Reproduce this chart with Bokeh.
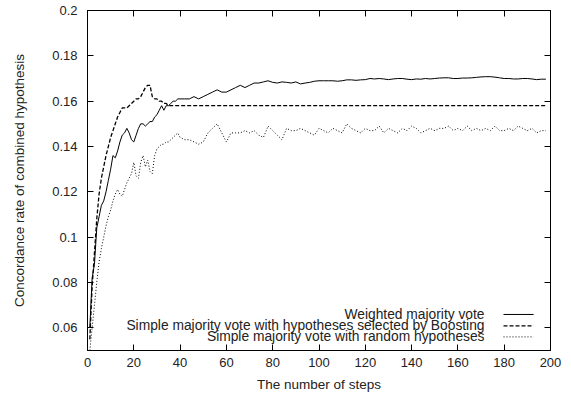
from bokeh.plotting import figure
from bokeh.models import (LinearAxis, FixedTicker, CustomJSTickFormatter, Label, Arrow, Range1d)
from bokeh.embed import file_html
from bokeh.resources import INLINE

# ---- data ----
STEPS = list(range(1, 41)) + list(range(42, 199, 2))

WEIGHTED = [
    0.060, 0.082, 0.088, 0.104, 0.109, 0.114, 0.116, 0.120, 0.125, 0.130,
    0.136, 0.135, 0.138, 0.142, 0.145, 0.146, 0.148, 0.146, 0.143, 0.142,
    0.145, 0.148, 0.150, 0.150, 0.149, 0.150, 0.151, 0.151, 0.153, 0.154,
    0.156, 0.158, 0.156, 0.158, 0.158, 0.159, 0.160, 0.160, 0.161, 0.161,
    0.161, 0.161, 0.162, 0.161, 0.162, 0.163, 0.164, 0.165, 0.164, 0.164,
    0.165, 0.166, 0.167, 0.166, 0.167, 0.168, 0.168, 0.1685, 0.169, 0.1683,
    0.168, 0.1685, 0.1683, 0.168, 0.1685, 0.1676, 0.168, 0.1683, 0.1688, 0.169,
    0.169, 0.169, 0.169, 0.1688, 0.169, 0.1694, 0.1694, 0.1692, 0.1694, 0.1695,
    0.170, 0.1698, 0.170, 0.1698, 0.1695, 0.1698, 0.170, 0.170, 0.1697, 0.1695,
    0.1698, 0.1697, 0.170, 0.1698, 0.170, 0.1702, 0.1703, 0.1703, 0.170, 0.170,
    0.1702, 0.1702, 0.1703, 0.1705, 0.1707, 0.1708, 0.1708, 0.1706, 0.1703, 0.170,
    0.170, 0.1698, 0.1698, 0.170, 0.170, 0.1698, 0.1695, 0.1697, 0.1697,
]

BOOSTING = [
    0.055, 0.078, 0.093, 0.108, 0.119, 0.126, 0.131, 0.136, 0.140, 0.144,
    0.147, 0.150, 0.153, 0.155, 0.157, 0.157, 0.157, 0.158, 0.159, 0.160,
    0.161, 0.161, 0.162, 0.164, 0.166, 0.167, 0.167, 0.162, 0.161, 0.161,
    0.160, 0.160, 0.159, 0.159, 0.158, 0.158, 0.158, 0.158, 0.158, 0.158,
    0.158, 0.158, 0.158, 0.158, 0.158, 0.158, 0.158, 0.158, 0.158, 0.158,
    0.158, 0.158, 0.158, 0.158, 0.158, 0.158, 0.158, 0.158, 0.158, 0.158,
    0.158, 0.158, 0.158, 0.158, 0.158, 0.158, 0.158, 0.158, 0.158, 0.158,
    0.158, 0.158, 0.158, 0.158, 0.158, 0.158, 0.158, 0.158, 0.158, 0.158,
    0.158, 0.158, 0.158, 0.158, 0.158, 0.158, 0.158, 0.158, 0.158, 0.158,
    0.158, 0.158, 0.158, 0.158, 0.158, 0.158, 0.158, 0.158, 0.158, 0.158,
    0.158, 0.158, 0.158, 0.158, 0.158, 0.158, 0.158, 0.158, 0.158, 0.158,
    0.158, 0.158, 0.158, 0.158, 0.158, 0.158, 0.158, 0.158, 0.158,
]

RANDOM = [
    0.050, 0.060, 0.070, 0.080, 0.089, 0.095, 0.100, 0.105, 0.109, 0.112,
    0.116, 0.119, 0.121, 0.119, 0.118, 0.121, 0.124, 0.126, 0.128, 0.133,
    0.127, 0.126, 0.133, 0.136, 0.131, 0.134, 0.129, 0.128, 0.136, 0.139,
    0.140, 0.141, 0.141, 0.142, 0.142, 0.143, 0.144, 0.145, 0.146, 0.144,
    0.143, 0.143, 0.142, 0.141, 0.142, 0.146, 0.148, 0.150, 0.146, 0.142,
    0.146, 0.146, 0.146, 0.147, 0.146, 0.147, 0.145, 0.144, 0.149, 0.147,
    0.145, 0.143, 0.148, 0.147, 0.147, 0.148, 0.147, 0.146, 0.145, 0.148,
    0.147, 0.146, 0.148, 0.147, 0.146, 0.150, 0.148, 0.147, 0.146, 0.148,
    0.147, 0.147, 0.149, 0.146, 0.148, 0.147, 0.146, 0.148, 0.147, 0.149,
    0.148, 0.146, 0.147, 0.148, 0.147, 0.148, 0.148, 0.149, 0.147, 0.148,
    0.147, 0.149, 0.147, 0.148, 0.147, 0.148, 0.147, 0.149, 0.147, 0.147,
    0.148, 0.147, 0.149, 0.148, 0.147, 0.148, 0.146, 0.147, 0.147,
]

SERIES_NAMES = [
    "Weighted majority vote",
    "Simple majority vote with hypotheses selected by Boosting",
    "Simple majority vote with random hypotheses",
]

X_TICKS = [0, 20, 40, 60, 80, 100, 120, 140, 160, 180, 200]
Y_TICKS = [0.06, 0.08, 0.1, 0.12, 0.14, 0.16, 0.18, 0.2]
Y_TICK_LABELS = ["0.06", "0.08", "0.1", "0.12", "0.14", "0.16", "0.18", "0.2"]

FONT = "Liberation Sans"
TXT = "#222222"

p = figure(width=571, height=394, output_backend="svg", toolbar_location=None,
           x_range=Range1d(0, 200), y_range=Range1d(0.05, 0.2),
           x_axis_label="The number of steps",
           y_axis_label="Concordance rate of combined hypothesis",
           min_border_left=87, min_border_right=21, min_border_top=10, min_border_bottom=10)
p.grid.visible = False
p.outline_line_color = "black"
p.background_fill_color = "white"
p.border_fill_color = "white"

styles = [dict(line_dash="solid", line_width=1.0),
          dict(line_dash="4 2", line_width=1.3),
          dict(line_dash="1 2", line_width=1.0)]
for ys, st in zip([WEIGHTED, BOOSTING, RANDOM], styles):
    n = min(len(ys), len(STEPS))
    p.line(STEPS[:n], ys[:n], line_color="black", **st)

def style_axis(ax):
    ax.axis_line_color = "black"
    ax.major_tick_in = 6
    ax.major_tick_out = 0
    ax.minor_tick_line_color = None
    ax.major_tick_line_color = "black"
    ax.major_label_text_font = FONT
    ax.major_label_text_font_size = "13px"
    ax.major_label_text_color = TXT
    ax.axis_label_text_font = FONT
    ax.axis_label_text_font_size = "13.5px"
    ax.axis_label_text_font_style = "normal"
    ax.axis_label_text_color = TXT

xa = p.xaxis[0]
ya = p.yaxis[0]
style_axis(xa); style_axis(ya)
xa.ticker = FixedTicker(ticks=X_TICKS)
ya.ticker = FixedTicker(ticks=Y_TICKS)
ya.major_label_overrides = {t: l for t, l in zip(Y_TICKS, Y_TICK_LABELS)}
xa.major_label_standoff = 7
ya.major_label_standoff = 10
xa.axis_label_standoff = 7
ya.axis_label_standoff = 22

top = LinearAxis(ticker=FixedTicker(ticks=X_TICKS),
                 formatter=CustomJSTickFormatter(code="return ''"))
right = LinearAxis(ticker=FixedTicker(ticks=Y_TICKS),
                   formatter=CustomJSTickFormatter(code="return ''"))
for ax in (top, right):
    style_axis(ax)
    ax.major_label_standoff = 0
    ax.major_label_text_font_size = "1px"
p.add_layout(top, "above")
p.add_layout(right, "right")

# legend (text right-aligned, sample line on the right)
LEG_Y = [0.0659, 0.0609, 0.0560]
for name, yy, st in zip(SERIES_NAMES, LEG_Y, styles):
    p.add_layout(Label(x=171.5, y=yy, text=name, text_align="right", text_baseline="middle",
                       text_font=FONT, text_font_size="13.8px", text_color=TXT))
    p.add_layout(Arrow(end=None, x_start=179.7, y_start=yy, x_end=192.7, y_end=yy,
                       line_color="black", **st))

open("out.html", "w").write(file_html(p, INLINE))
